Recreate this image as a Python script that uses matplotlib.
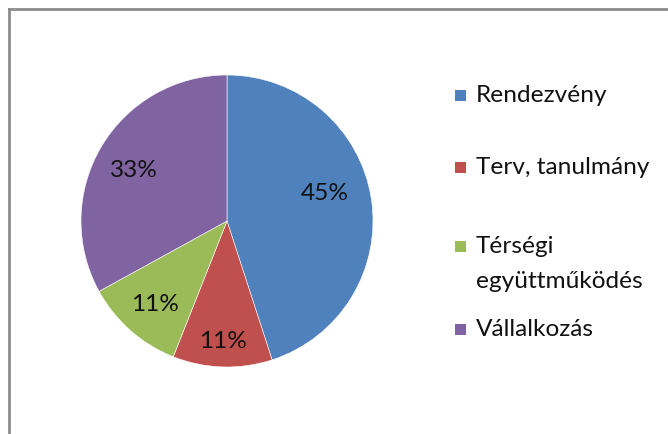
import numpy as np
import matplotlib
matplotlib.use('Agg')
import matplotlib.pyplot as plt
from matplotlib.patches import Rectangle
from matplotlib.lines import Line2D

# ── Data ──────────────────────────────────────────────────────────
categories = ['Rendezvény', 'Terv, tanulmány', 'Térségi\negyüttműködés', 'Vállalkozás']
shares = [45, 11, 11, 33]
colors = ['#4F81BD', '#C0504D', '#9BBB59', '#8064A2']

plt.rcParams['font.family'] = ['Lato', 'DejaVu Sans']
TXT = '#111111'
FS = 17.6

W, H = 668, 435
fig = plt.figure(figsize=(W / 100, H / 100), dpi=100)
fig.patch.set_facecolor('white')

# chart frame (only top and left edges visible in the crop)
fig.add_artist(Line2D([9 / W, 9 / W], [0, 1 - 10 / H], transform=fig.transFigure,
                      color='#8c8c8c', linewidth=2))
fig.add_artist(Line2D([9 / W, 1], [1 - 10 / H, 1 - 10 / H], transform=fig.transFigure,
                      color='#8c8c8c', linewidth=2))

# ── Pie ───────────────────────────────────────────────────────────
cx, cy, r = 227, 222, 146
ax = fig.add_axes([(cx - r) / W, (H - cy - r) / H, 2 * r / W, 2 * r / H])
wedges, texts, autotexts = ax.pie(shares, colors=colors, startangle=90, counterclock=False,
                                  autopct='%d%%', pctdistance=0.74,
                                  wedgeprops=dict(edgecolor='white', linewidth=0.4),
                                  textprops=dict(fontsize=FS, color=TXT))
# move labels to where the original places them (radius, angle nudge)
label_r = [0.70, 0.82, 0.75, 0.73]
label_da = [7, 0, 0, 2]
for w, t, lr, da in zip(wedges, autotexts, label_r, label_da):
    ang = np.deg2rad((w.theta1 + w.theta2) / 2 + da)
    t.set_position((lr * np.cos(ang), lr * np.sin(ang)))
ax.set_xlim(-1, 1)
ax.set_ylim(-1, 1)
ax.set_aspect('equal')
ax.axis('off')

# ── Legend ────────────────────────────────────────────────────────
base_y = [102, 174, 253, 336]   # baseline of first line, px from top
line_step = 35
for lab, col, y in zip(categories, colors, base_y):
    fig.add_artist(Rectangle((455 / W, 1 - y / H), 11 / W, 11 / H,
                             transform=fig.transFigure, facecolor=col, edgecolor='none'))
    for k, part in enumerate(lab.split('\n')):
        fig.text(476 / W, 1 - (y + k * line_step) / H, part, fontsize=FS, color=TXT,
                 va='baseline', ha='left')

fig.savefig('out.png', dpi=100)
